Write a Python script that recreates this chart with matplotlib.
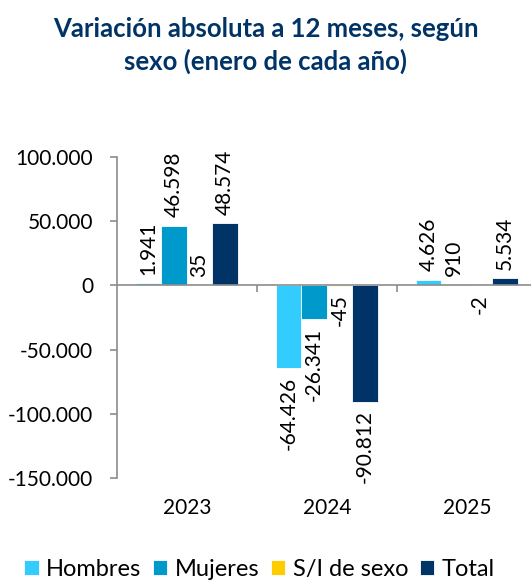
import numpy as np
import matplotlib
matplotlib.use("Agg")
import matplotlib.pyplot as plt

plt.rcParams['font.family'] = ['Lato', 'DejaVu Sans']

# data
years = ['2023', '2024', '2025']
series = ['Hombres', 'Mujeres', 'S/I de sexo', 'Total']
hombres = [1941, -64426, 4626]
mujeres = [46598, -26341, 910]
sin_info = [35, -45, -2]
total = [48574, -90812, 5534]
colors = ['#33CCFF', '#0099CC', '#FFCC00', '#003366']


def fmt(v):
    return f"{v:,.0f}".replace(',', '.')


fig = plt.figure(figsize=(5.31, 5.8), dpi=100)
ax = fig.add_axes([0.220, 0.176, 0.791, 0.553])

x = np.arange(len(years))
w = 0.182
for i, (name, vals, c) in enumerate(zip(series, [hombres, mujeres, sin_info, total], colors)):
    pos = x + (i - 1.5) * w
    ax.bar(pos, vals, w, color=c, label=name, edgecolor='white', linewidth=0.6)
    for xp, v in zip(pos, vals):
        if v >= 0:
            ax.annotate(fmt(v), (xp, v), xytext=(0, 6), textcoords='offset points',
                        rotation=90, ha='center', va='bottom', fontsize=15, clip_on=False)
        else:
            ax.annotate(fmt(v), (xp, v), xytext=(0, -6), textcoords='offset points',
                        rotation=90, ha='center', va='top', fontsize=15, clip_on=False)

ax.set_xlim(-0.5, 2.5)
ax.set_ylim(-150000, 100000)
ax.set_yticks(np.arange(-150000, 100001, 50000))
ax.set_yticklabels([fmt(v) for v in ax.get_yticks()], fontsize=15)

ax.spines['top'].set_visible(False)
ax.spines['right'].set_visible(False)
ax.spines['left'].set_color('#8C8C8C')
ax.spines['left'].set_linewidth(1.2)
ax.spines['bottom'].set_position(('data', 0))
ax.spines['bottom'].set_color('#8C8C8C')
ax.spines['bottom'].set_linewidth(1.2)

ax.set_xticks(x)
ax.set_xticklabels(years, fontsize=15)
ax.set_xticks([0.5, 1.5], minor=True)
ax.tick_params(axis='x', which='major', length=0, pad=153)
ax.tick_params(axis='x', which='minor', length=5, color='#8C8C8C', width=1.2)
ax.tick_params(axis='y', length=5, color='#8C8C8C', width=1.2, pad=12)

fig.text(0.5, 0.922, 'Variación absoluta a 12 meses, según\nsexo (enero de cada año)',
         ha='center', va='center', fontsize=18.5, fontweight='bold', color='#003366',
         linespacing=1.35)

fig.legend(loc='center left', bbox_to_anchor=(0.045, 0.018), ncol=4, frameon=False,
           fontsize=17, handlelength=0.62, handleheight=0.62, handletextpad=0.3,
           columnspacing=0.5, borderaxespad=0, borderpad=0)

fig.savefig('out.png', dpi=100)
